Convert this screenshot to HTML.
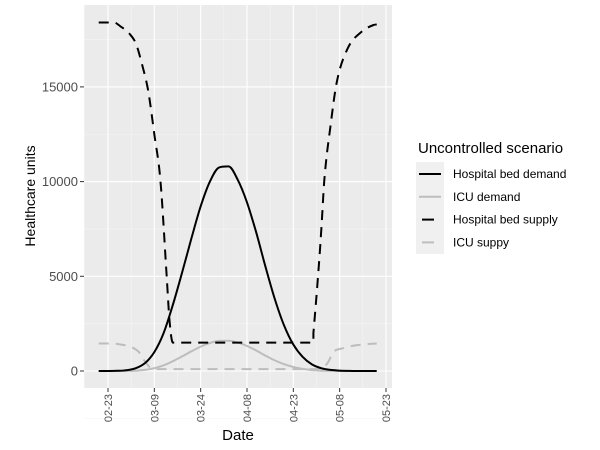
<!DOCTYPE html>
<html><head><meta charset="utf-8"><style>
body{margin:0;background:#fff;}
svg{display:block;font-family:"Liberation Sans",Arial,sans-serif;}
</style></head><body>
<svg id="chart" width="600" height="450">
<rect x="84" y="5" width="308" height="383" fill="#ebebeb"/>
<g id="grid"></g><g id="series"></g><g id="axes"></g>
<text x="35" y="196" transform="rotate(-90 35 196)" text-anchor="middle" font-size="14" fill="#000">Healthcare units</text>
<text x="238" y="440" text-anchor="middle" font-size="15" fill="#000">Date</text>
<g>
<text x="418" y="153" font-size="15">Uncontrolled scenario</text>
<rect x="416" y="162" width="28" height="92" fill="#f0f0f0"/>
<g id="legend"></g>
</g>
</svg>
<script>
const yTicks=[0,5000,10000,15000];
const xTickLabels=["02-23","03-09","03-24","04-08","04-23","05-08","05-23"];
const xTickDays=[0,15,30,45,60,75,90];
const demandDays=[-3,0,3,6,9,12,15,18,21,24,27,30,33,36,39,42,45,48,51,54,57,60,63,66,69,72,75,78,81,84,87];
const hospDemand=[0,0,10,40,150,420,1000,2000,3500,5200,7000,8700,10000,10750,10800,10100,8900,7300,5500,3800,2400,1400,750,350,150,60,20,5,0,0,0];
const icuDemand=[0,0,0,5,20,60,150,300,520,770,1040,1290,1480,1590,1600,1500,1320,1080,810,560,360,210,110,50,20,10,0,0,0,0,0];
const supplyDays=[-3,2,4,7,9,11,13,15,17,19,20,21,66.5,66.5,68,69,70,72,74,77.5,82,86,87];
const hospSupply=[18400,18400,18200,17800,17300,16200,14800,12500,10000,5000,2500,1500,1500,2000,5000,7300,10000,12900,15200,17000,17900,18270,18300];
const icuSupplyDays=[-3,1,4,7,10,12,14,16,40,66,69,71,73,76,80,84,87];
const icuSupply=[1450,1450,1400,1300,1000,500,150,100,100,100,150,400,1000,1200,1350,1420,1450];

const NS="http://www.w3.org/2000/svg";
const X=d=>108+d*(278/90);
const Y=v=>371-v*(94.7/5000);
function mk(tag,attrs,parent){const e=document.createElementNS(NS,tag);for(const k in attrs)e.setAttribute(k,attrs[k]);parent.appendChild(e);return e;}
const grid=document.getElementById('grid'),axes=document.getElementById('axes'),series=document.getElementById('series');
for(let i=0;i<yTicks.length;i++){const v=yTicks[i]+2500;mk('line',{x1:84,x2:392,y1:Y(v),y2:Y(v),stroke:'#f5f5f5','stroke-width':0.6},grid);}
mk('line',{x1:84,x2:392,y1:Y(-2500),y2:Y(-2500),stroke:'#f5f5f5','stroke-width':0.6},grid);
for(let i=0;i<xTickDays.length;i++){const d=xTickDays[i]-7.5;mk('line',{x1:X(d),x2:X(d),y1:5,y2:388,stroke:'#f5f5f5','stroke-width':0.6},grid);}
yTicks.forEach(v=>{
  mk('line',{x1:84,x2:392,y1:Y(v),y2:Y(v),stroke:'#fff','stroke-width':1.1},grid);
  mk('line',{x1:80,x2:84,y1:Y(v),y2:Y(v),stroke:'#333'},axes);
  const t=mk('text',{x:78,y:Y(v)+4.5,'text-anchor':'end','font-size':13,fill:'#4d4d4d'},axes);t.textContent=v;
  
  
});
xTickDays.forEach((d,i)=>{
  mk('line',{x1:X(d),x2:X(d),y1:5,y2:388,stroke:'#fff','stroke-width':1.1},grid);
  mk('line',{x1:X(d),x2:X(d),y1:388,y2:392,stroke:'#333'},axes);
  const t=mk('text',{x:X(d)+4,y:394,'text-anchor':'end','font-size':11,fill:'#4d4d4d',transform:`rotate(-90 ${X(d)+4} 394)`},axes);t.textContent=xTickLabels[i];
  
  
});
function smoothSeg(px,py){
  // monotone cubic (Fritsch-Carlson)
  const n=px.length;if(n<3)return px.map((x,i)=>(i?'L':'')+x.toFixed(1)+' '+py[i].toFixed(1)).join('');
  const dx=[],m=[],t=[];
  for(let i=0;i<n-1;i++){dx[i]=px[i+1]-px[i];m[i]=(py[i+1]-py[i])/dx[i];}
  t[0]=m[0];t[n-1]=m[n-2];
  for(let i=1;i<n-1;i++){t[i]=(m[i-1]*m[i]<=0)?0:(m[i-1]+m[i])/2;}
  for(let i=0;i<n-1;i++){if(m[i]===0){t[i]=0;t[i+1]=0;continue;}const a=t[i]/m[i],b=t[i+1]/m[i],s=a*a+b*b;if(s>9){const k=3/Math.sqrt(s);t[i]=k*a*m[i];t[i+1]=k*b*m[i];}}
  let d=px[0].toFixed(1)+' '+py[0].toFixed(1);
  for(let i=0;i<n-1;i++){const h=dx[i]/3;d+=`C${(px[i]+h).toFixed(1)} ${(py[i]+t[i]*h).toFixed(1)} ${(px[i+1]-h).toFixed(1)} ${(py[i+1]-t[i+1]*h).toFixed(1)} ${px[i+1].toFixed(1)} ${py[i+1].toFixed(1)}`;}
  return d;
}
function line(days,vals,color,dash,name){
  let d='',sx=[],sy=[];
  const flush=(first)=>{if(sx.length){d+=(d?'L':'M')+smoothSeg(sx,sy);}};
  days.forEach((dd,i)=>{
    if(i>0&&dd===days[i-1]){flush();sx=[];sy=[];}
    sx.push(X(dd));sy.push(Y(vals[i]));
  });
  flush();
  const p=mk('path',{d:d,fill:'none',stroke:color,'stroke-width':2,'stroke-dasharray':dash||'none','stroke-linejoin':'round'},series);
  
  
}
line(icuSupplyDays,icuSupply,'#bdbdbd','10 7','icu-supply-line');
line(demandDays,icuDemand,'#bdbdbd','','icu-demand-line');
line(supplyDays,hospSupply,'#000','10 7','hospital-bed-supply-line');
line(demandDays,hospDemand,'#000','','hospital-bed-demand-line');
const leg=document.getElementById('legend');
[["Hospital bed demand","#000",""],["ICU demand","#bdbdbd",""],["Hospital bed supply","#000","6 4"],["ICU suppy","#bdbdbd","6 4"]].forEach((e,i)=>{
  const y=174+i*22.8;
  const g=mk('g',{},leg);
  
  
  mk('line',{x1:e[2]?422:419,x2:e[2]?434:441,y1:y,y2:y,stroke:e[1],'stroke-width':2},g);
  const t=mk('text',{x:453,y:y+4,'font-size':12},g);t.textContent=e[0];
});
</script>
</body></html>
